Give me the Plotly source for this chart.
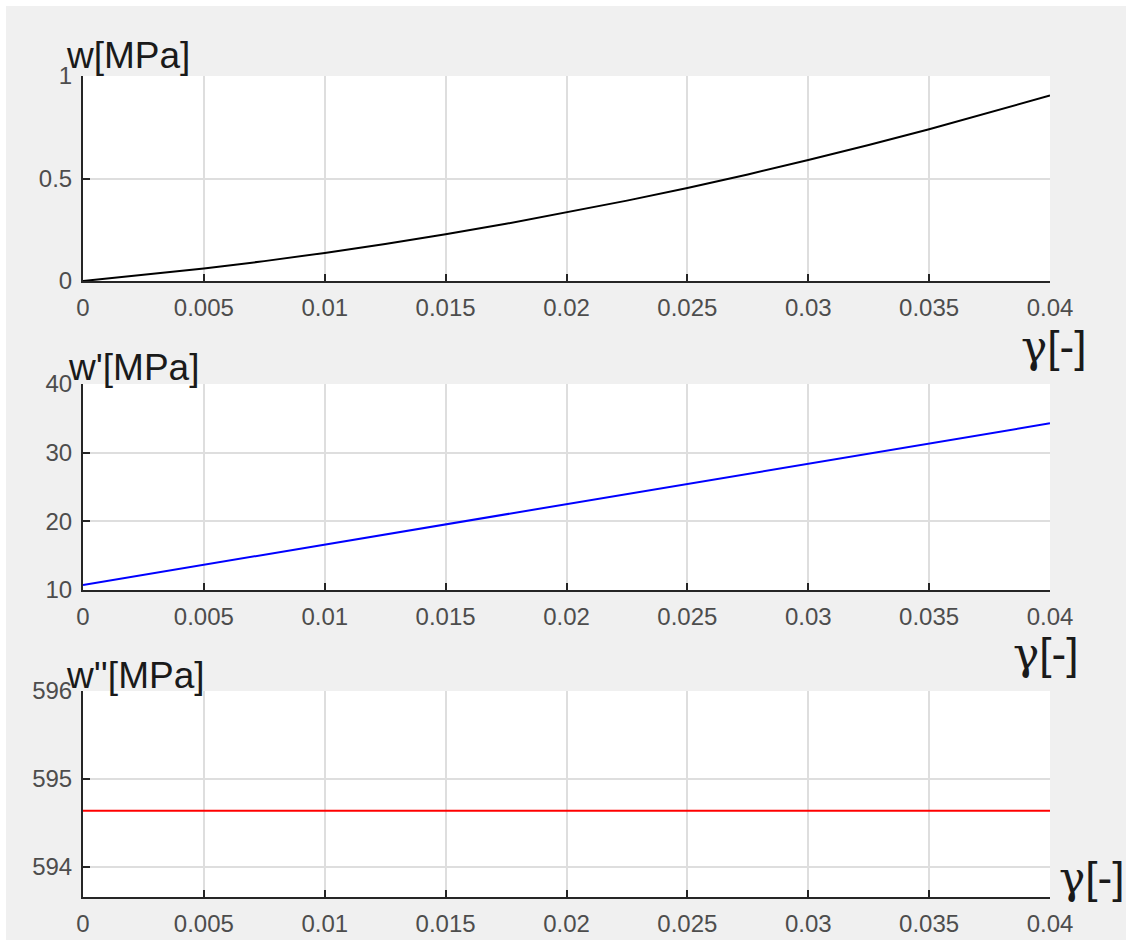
import plotly.graph_objects as go

W, H = 1126, 940

# data
gamma_w = [0, 0.0025, 0.005, 0.0075, 0.01, 0.0125, 0.015, 0.0175, 0.02,
           0.0225, 0.025, 0.0275, 0.03, 0.0325, 0.035, 0.0375, 0.04]
w_vals = [0.0, 0.029, 0.061, 0.097, 0.137, 0.181, 0.228, 0.279, 0.334,
          0.392, 0.454, 0.520, 0.590, 0.663, 0.740, 0.821, 0.905]
gamma_d = [0, 0.005, 0.01, 0.015, 0.02, 0.025, 0.03, 0.035, 0.04]
wp_vals = [10.73, 13.67, 16.61, 19.55, 22.50, 25.44, 28.38, 31.33, 34.27]
wpp_vals = [594.64] * 9

x_ticks = [0, 0.005, 0.01, 0.015, 0.02, 0.025, 0.03, 0.035, 0.04]
x_ticklabels = ["0", "0.005", "0.01", "0.015", "0.02", "0.025", "0.03", "0.035", "0.04"]
y1_ticks, y1_labels = [0, 0.5, 1], ["0", "0.5", "1"]
y2_ticks, y2_labels = [10, 20, 30, 40], ["10", "20", "30", "40"]
y3_ticks, y3_labels = [594, 595, 596], ["594", "595", "596"]

def px_x(p):
    return p / W

def px_y(p):
    return 1 - p / H

X0, X1 = px_x(83), px_x(1050)
panels = [(76, 281), (384, 590), (691, 897)]

fig = go.Figure()
fig.add_trace(go.Scatter(x=gamma_w, y=w_vals, mode="lines",
                         line=dict(color="black", width=2), xaxis="x", yaxis="y"))
fig.add_trace(go.Scatter(x=gamma_d, y=wp_vals, mode="lines",
                         line=dict(color="#0000ff", width=2), xaxis="x2", yaxis="y2"))
fig.add_trace(go.Scatter(x=gamma_d, y=wpp_vals, mode="lines",
                         line=dict(color="#ff0000", width=2), xaxis="x3", yaxis="y3"))

tickfont = dict(family="Liberation Sans, Arial, sans-serif", size=24, color="#4d4d4d")
axis_common = dict(showline=True, linecolor="#262626", linewidth=2,
                   ticks="inside", ticklen=7, tickwidth=2, tickcolor="#262626",
                   showgrid=True, gridcolor="#dedede", gridwidth=1.5,
                   zeroline=False, tickfont=tickfont, mirror=False, fixedrange=True,
                   automargin=False)

yranges = [[0, 1], [10, 40], [593.66, 596]]
yticks = [(y1_ticks, y1_labels), (y2_ticks, y2_labels), (y3_ticks, y3_labels)]
layout = dict(width=W, height=H, margin=dict(l=0, r=0, t=0, b=0, pad=0),
              paper_bgcolor="#f0f0f0", plot_bgcolor="white", showlegend=False)
for i, (top, bot) in enumerate(panels):
    sfx = "" if i == 0 else str(i + 1)
    layout["xaxis" + sfx] = dict(axis_common, domain=[X0, X1], range=[0, 0.04],
                                 tickvals=x_ticks, ticktext=x_ticklabels,
                                 anchor="y" + sfx, ticklabelstandoff=4)
    layout["yaxis" + sfx] = dict(axis_common, domain=[px_y(bot), px_y(top)],
                                 range=yranges[i], tickvals=yticks[i][0],
                                 ticktext=yticks[i][1], anchor="x" + sfx,
                                 ticklabelstandoff=4)
fig.update_layout(**layout)

shapes = [
    dict(type="rect", xref="paper", yref="paper", x0=0, x1=1, y0=px_y(6), y1=1,
         fillcolor="white", line=dict(width=0), layer="below"),
    dict(type="rect", xref="paper", yref="paper", x0=0, x1=px_x(6), y0=0, y1=1,
         fillcolor="white", line=dict(width=0), layer="below"),
]
for top, bot in panels:
    shapes.append(dict(type="rect", xref="paper", yref="paper", x0=X0, x1=X1,
                       y0=px_y(bot), y1=px_y(top), fillcolor="white",
                       line=dict(width=0), layer="below"))
fig.update_layout(shapes=shapes)

lab_font = dict(family="Liberation Sans, Arial, sans-serif", size=37, color="#1a1a1a")
g_font = dict(family="Liberation Sans, Arial, sans-serif", size=44, color="#1a1a1a")
g_text = "<span style='font-family:DejaVu Serif'>γ</span>[-]"
annots = [
    ("w[MPa]", 64, 56, lab_font, "left"),
    ("w'[MPa]", 66, 367, lab_font, "left"),
    ("w''[MPa]", 64, 675, lab_font, "left"),
    (g_text, 1019, 347, g_font, "left"),
    (g_text, 1011, 653, g_font, "left"),
    (g_text, 1057, 877, g_font, "left"),
]
for text, x, y, f, xa in annots:
    fig.add_annotation(text=text, x=px_x(x), y=px_y(y), xref="paper", yref="paper",
                       xanchor=xa, yanchor="middle", showarrow=False, font=f)

fig.write_html("out.html",
               post_script="document.body.style.margin='0';document.body.style.padding='0';")
